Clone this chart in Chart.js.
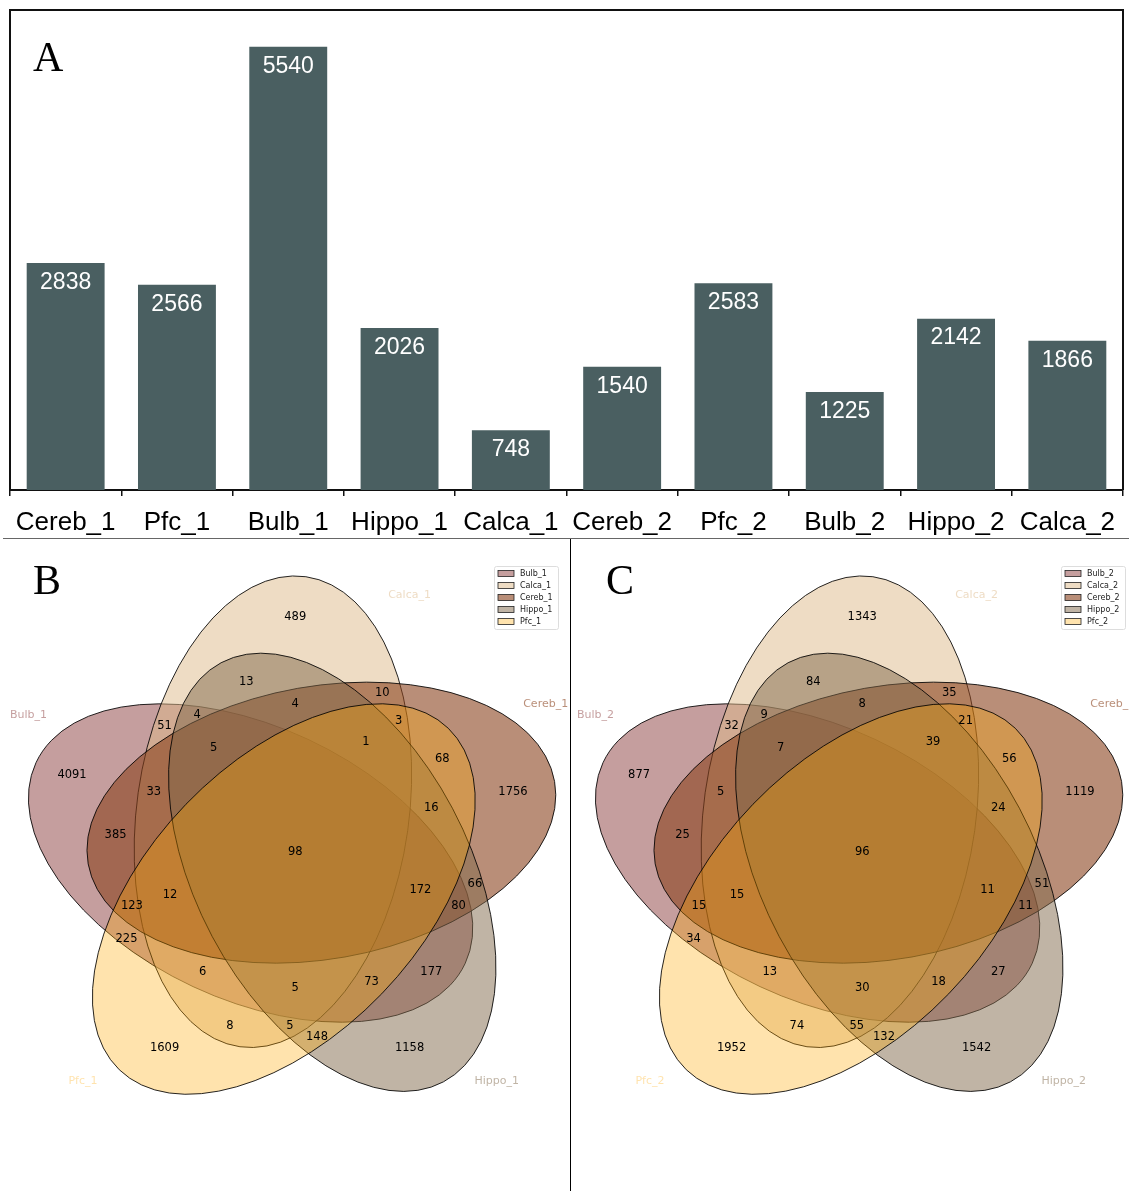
<!DOCTYPE html>
<html><head><meta charset="utf-8">
<script src="https://cdn.jsdelivr.net/npm/chart.js@4/dist/chart.umd.min.js"></script>
<style>
html,body{margin:0;padding:0;background:#fff;width:1129px;height:1191px;overflow:hidden;position:relative}
canvas{position:absolute}
#cA{left:0;top:0}
#cB{left:0;top:539px}
#cC{left:571px;top:539px}
.hline{position:absolute;left:3px;top:538px;width:1126px;height:1px;background:#666}
.vline{position:absolute;left:570px;top:539px;width:1px;height:652px;background:#000}
.letter{position:absolute;font-family:'Liberation Serif','DejaVu Serif',serif;font-size:42px;line-height:1;color:#000}
</style></head>
<body>
<canvas id="cA" width="1129" height="538"></canvas>
<canvas id="cB" width="570" height="652"></canvas>
<canvas id="cC" width="558" height="652"></canvas>
<div class="hline"></div>
<div class="vline"></div>
<div class="letter" style="left:33px;top:36px">A</div>
<div class="letter" style="left:33px;top:559px">B</div>
<div class="letter" style="left:606px;top:559px">C</div>
<script>
// ---------- Panel A data ----------
const categories = ['Cereb_1','Pfc_1','Bulb_1','Hippo_1','Calca_1','Cereb_2','Pfc_2','Bulb_2','Hippo_2','Calca_2'];
const geneCounts = [2838, 2566, 5540, 2026, 748, 1540, 2583, 1225, 2142, 1866];

// ---------- Venn data ----------
const setNamesB = ['Bulb_1','Calca_1','Cereb_1','Hippo_1','Pfc_1'];
const setNamesC = ['Bulb_2','Calca_2','Cereb_2','Hippo_2','Pfc_2'];
const regionKeys = ['00001','00010','00011','00100','00101','00110','00111','01000','01001','01010','01011','01100','01101','01110','01111',
                    '10000','10001','10010','10011','10100','10101','10110','10111','11000','11001','11010','11011','11100','11101','11110','11111'];
const regionCountsB = [1609,1158,148,1756,68,66,16,489,8,13,5,10,3,4,1,
                       4091,225,177,73,385,123,80,172,51,6,4,5,33,12,5,98];
const regionCountsC = [1952,1542,132,1119,56,51,24,1343,74,84,55,35,21,8,39,
                       877,34,27,18,25,15,11,11,32,13,9,30,5,15,7,96];

// ---------- Venn layout (unit square) ----------
const regionLabelPos = [[.27,.11],[.72,.11],[.55,.13],[.91,.58],[.78,.64],[.84,.41],[.76,.55],[.51,.90],[.39,.15],[.42,.78],[.50,.15],[.67,.76],[.70,.71],[.51,.74],[.64,.67],
                        [.10,.61],[.20,.31],[.76,.25],[.65,.23],[.18,.50],[.21,.37],[.81,.37],[.74,.40],[.27,.70],[.34,.25],[.33,.72],[.51,.22],[.25,.58],[.28,.39],[.36,.66],[.51,.47]];
const ellipseCenters = [[.428,.449],[.469,.543],[.558,.523],[.578,.432],[.489,.383]];
const ellipseAngles = [155, 82, 10, 118, 46];
const ellipseSize = [.87, .50];
const setNamePos = [[.02,.72],[.72,.94],[.97,.74],[.88,.05],[.12,.05]];
const setColors = ['rgba(140,62,62,0.5)','rgba(222,186,138,0.5)','rgba(138,67,30,0.6)','rgba(130,105,75,0.5)','rgba(255,168,0,0.32)'];

// ---------- Panel A ----------
const frameA = {
  id:'frameA',
  afterDraw(chart){
    const {ctx, chartArea:a} = chart;
    ctx.save();
    ctx.strokeStyle = '#111'; ctx.lineWidth = 2;
    ctx.beginPath();
    ctx.moveTo(a.left, a.bottom); ctx.lineTo(a.left, a.top); ctx.lineTo(a.right, a.top); ctx.lineTo(a.right, a.bottom);
    ctx.stroke();
    ctx.restore();
  }
};
const barLabels = {
  id:'barLabels',
  afterDatasetsDraw(chart){
    const {ctx} = chart;
    const meta = chart.getDatasetMeta(0);
    ctx.save();
    ctx.fillStyle = '#fff';
    ctx.font = '23px "Liberation Sans", Arial, sans-serif';
    ctx.textAlign = 'center'; ctx.textBaseline = 'middle';
    meta.data.forEach((el, i) => {
      ctx.fillText(String(chart.data.datasets[0].data[i]), el.x, el.y + 19.5);
    });
    ctx.restore();
  }
};
new Chart(document.getElementById('cA'), {
  type:'bar',
  data:{labels:categories, datasets:[{data:geneCounts, backgroundColor:'#4a5f61', barPercentage:0.7, categoryPercentage:1}]},
  options:{
    responsive:false, animation:false,
    layout:{padding:{left:10, right:6, top:10, bottom:0}},
    plugins:{legend:{display:false}, tooltip:{enabled:false}},
    scales:{
      x:{
        grid:{display:true, drawOnChartArea:false, tickLength:6, color:'#111', lineWidth:1.5, offset:true},
        border:{display:true, color:'#111', width:2},
        ticks:{color:'#000', font:{family:'"Liberation Sans", Arial, sans-serif', size:26}, padding:11, autoSkip:false, maxRotation:0, minRotation:0},
        afterFit(s){ s.height = 48; }
      },
      y:{display:false, min:0, max:6000}
    }
  },
  plugins:[frameA, barLabels]
});

// ---------- Venn panels ----------
function vennPlugin(names){
  return {
    id:'venn',
    beforeDatasetsDraw(chart){
      const {ctx, scales:{x, y}} = chart;
      const sx = x.getPixelForValue(1) - x.getPixelForValue(0);
      const sy = y.getPixelForValue(0) - y.getPixelForValue(1);
      ellipseCenters.forEach((c, i) => {
        ctx.save();
        ctx.translate(x.getPixelForValue(c[0]), y.getPixelForValue(c[1]));
        ctx.scale(sx, -sy);
        ctx.rotate(ellipseAngles[i] * Math.PI / 180);
        ctx.beginPath();
        ctx.ellipse(0, 0, ellipseSize[0] / 2, ellipseSize[1] / 2, 0, 0, Math.PI * 2);
        ctx.restore();
        ctx.save();
        ctx.fillStyle = setColors[i];
        ctx.fill();
        ctx.strokeStyle = 'rgba(0,0,0,0.85)';
        ctx.lineWidth = 1;
        ctx.stroke();
        ctx.restore();
      });
    },
    afterDatasetsDraw(chart){
      const {ctx, chartArea:a, scales:{x, y}} = chart;
      const meta = chart.getDatasetMeta(0);
      const ds = chart.data.datasets[0].data;
      ctx.save();
      ctx.font = '11.5px "DejaVu Sans", sans-serif';
      ctx.fillStyle = '#000';
      ctx.textAlign = 'center'; ctx.textBaseline = 'middle';
      meta.data.forEach((el, i) => ctx.fillText(String(ds[i].v), el.x, el.y));
      // set names
      ctx.font = '11px "DejaVu Sans", sans-serif';
      names.forEach((n, i) => {
        ctx.fillStyle = setColors[i];
        ctx.fillText(n, x.getPixelForValue(setNamePos[i][0]), y.getPixelForValue(setNamePos[i][1]));
      });
      // legend box
      const bw = 64, bh = 63;
      const bx = a.right - 4 - bw, by = a.top + 3.6;
      ctx.fillStyle = 'rgba(255,255,255,0.8)';
      ctx.strokeStyle = '#ddd'; ctx.lineWidth = 1;
      ctx.beginPath();
      if (ctx.roundRect) ctx.roundRect(bx + 0.5, by + 0.5, bw, bh, 2); else ctx.rect(bx + 0.5, by + 0.5, bw, bh);
      ctx.fill(); ctx.stroke();
      ctx.font = '8px "DejaVu Sans", sans-serif';
      ctx.textAlign = 'left';
      names.forEach((n, i) => {
        const ry = by + 7.5 + i * 12;
        ctx.fillStyle = '#fff';
        ctx.fillRect(bx + 4, ry - 3, 16, 6);
        ctx.fillStyle = setColors[i];
        ctx.fillRect(bx + 4, ry - 3, 16, 6);
        ctx.strokeStyle = '#222'; ctx.lineWidth = 0.8;
        ctx.strokeRect(bx + 4, ry - 3, 16, 6);
        ctx.fillStyle = '#222';
        ctx.fillText(n, bx + 26, ry);
      });
      ctx.restore();
    }
  };
}
function makeVenn(id, names, counts, pad){
  new Chart(document.getElementById(id), {
    type:'scatter',
    data:{datasets:[{
      data: regionKeys.map((k, i) => ({x: regionLabelPos[i][0], y: regionLabelPos[i][1], v: counts[i], key: k})),
      pointRadius:0, pointHoverRadius:0, showLine:false
    }]},
    options:{
      responsive:false, animation:false,
      layout:{padding:pad},
      plugins:{legend:{display:false}, tooltip:{enabled:false}},
      scales:{x:{display:false, min:0, max:1}, y:{display:false, min:0, max:1}}
    },
    plugins:[vennPlugin(names)]
  });
}
makeVenn('cB', setNamesB, regionCountsB, {left:17.6, right:8, top:23.4, bottom:83});
makeVenn('cC', setNamesC, regionCountsC, {left:13.6, right:0, top:23.4, bottom:83});
</script>
</body></html>
